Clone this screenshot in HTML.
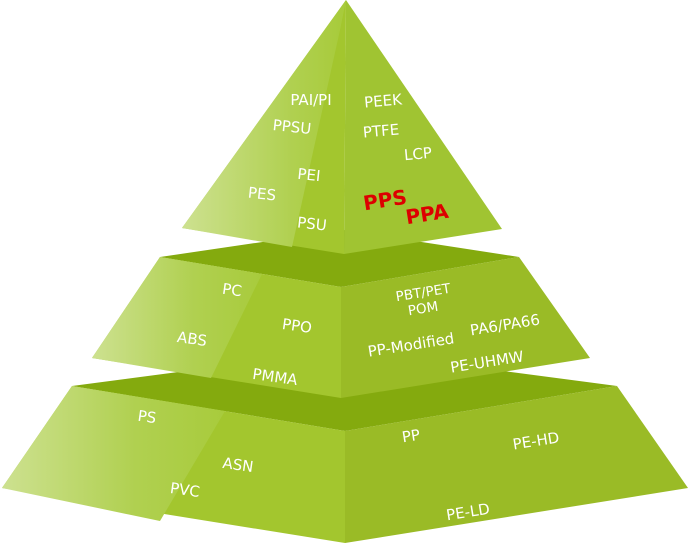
<!DOCTYPE html>
<html><head><style>html,body{margin:0;padding:0;background:#fff}svg{display:block}</style></head><body>
<svg width="689" height="544" viewBox="0 0 689 544" xmlns="http://www.w3.org/2000/svg" font-family="'DejaVu Sans','Liberation Sans',sans-serif">
<defs>
<linearGradient id="lg" x1="0" x2="1" y1="0" y2="0"><stop offset="0" stop-color="#cde190"/><stop offset="0.6" stop-color="#b0d050"/><stop offset="1" stop-color="#a8cb3c"/></linearGradient>
<linearGradient id="lg2" gradientUnits="userSpaceOnUse" x1="182" x2="340" y1="0" y2="0"><stop offset="0" stop-color="#cde190"/><stop offset="0.7" stop-color="#b0d050"/><stop offset="1" stop-color="#a8cb3c"/></linearGradient>
</defs>
<!-- bottom tier -->
<polygon points="72,386 345,350 617,386 345,431" fill="#84aa0e"/>
<polygon points="72,386 345,431 345,543 2,488" fill="#a3c62e"/>
<polygon points="72,386 225,411 160,521 2,488" fill="url(#lg)"/>
<polygon points="345,431 617,386 688,488 345,543" fill="#9abb26"/>
<!-- middle tier -->
<polygon points="160,257 344,230 519,257 341,287" fill="#84aa0e"/>
<polygon points="160,257 341,287 341,398 92,358" fill="#a3c62e"/>
<polygon points="160,257 262,274 211,378 92,358" fill="url(#lg)"/>
<polygon points="341,287 519,257 590,358 341,398" fill="#9abb26"/>
<!-- top tier -->
<polygon points="346,0 344,254 182,228" fill="#a3c62e"/>
<polygon points="346,0 340,30 292,247 182,228" fill="url(#lg2)"/>
<polygon points="346,0 502,229 344,254" fill="#a0c432"/>
<g fill="#fff" font-size="15">
<text x="311" y="105" text-anchor="middle">PAI/PI</text>
<text x="292" y="132" text-anchor="middle" transform="rotate(6 292 127)">PPSU</text>
<text x="309" y="180" text-anchor="middle" transform="rotate(6 309 175)">PEI</text>
<text x="262" y="199" text-anchor="middle" transform="rotate(6 262 194)">PES</text>
<text x="312" y="229" text-anchor="middle" transform="rotate(6 312 224)">PSU</text>
<text x="383" y="106" text-anchor="middle" transform="rotate(-5 383 101)">PEEK</text>
<text x="381" y="136" text-anchor="middle" transform="rotate(-5 381 131)">PTFE</text>
<text x="418" y="159" text-anchor="middle" transform="rotate(-5 418 154)">LCP</text>
<text x="232" y="295" text-anchor="middle" transform="rotate(8 232 290)">PC</text>
<text x="297" y="331" text-anchor="middle" transform="rotate(8 297 326)">PPO</text>
<text x="192" y="344" text-anchor="middle" transform="rotate(8 192 339)">ABS</text>
<text x="275" y="382" text-anchor="middle" transform="rotate(8 275 377)">PMMA</text>
<text x="423" y="297" text-anchor="middle" font-size="13.5" transform="rotate(-9 423 292)">PBT/PET</text>
<text x="423" y="313" text-anchor="middle" font-size="13.5" transform="rotate(-9 423 308)">POM</text>
<text x="411" y="350" text-anchor="middle" transform="rotate(-9 411 345)">PP-Modified</text>
<text x="505" y="330" text-anchor="middle" transform="rotate(-9 505 325)">PA6/PA66</text>
<text x="487" y="367" text-anchor="middle" transform="rotate(-9 487 362)">PE-UHMW</text>
<text x="147" y="422" text-anchor="middle" transform="rotate(8 147 417)">PS</text>
<text x="238" y="470" text-anchor="middle" transform="rotate(8 238 465)">ASN</text>
<text x="185" y="495" text-anchor="middle" transform="rotate(8 185 490)">PVC</text>
<text x="411" y="441" text-anchor="middle" transform="rotate(-9 411 436)">PP</text>
<text x="536" y="446" text-anchor="middle" transform="rotate(-9 536 441)">PE-HD</text>
<text x="468" y="517" text-anchor="middle" transform="rotate(-9 468 512)">PE-LD</text>
</g>
<g fill="#dd0000" font-size="20" font-weight="bold">
<text x="385" y="207" text-anchor="middle" transform="rotate(-9 385 200)">PPS</text>
<text x="427" y="221" text-anchor="middle" transform="rotate(-9 427 214)">PPA</text>
</g>
</svg>
</body></html>
